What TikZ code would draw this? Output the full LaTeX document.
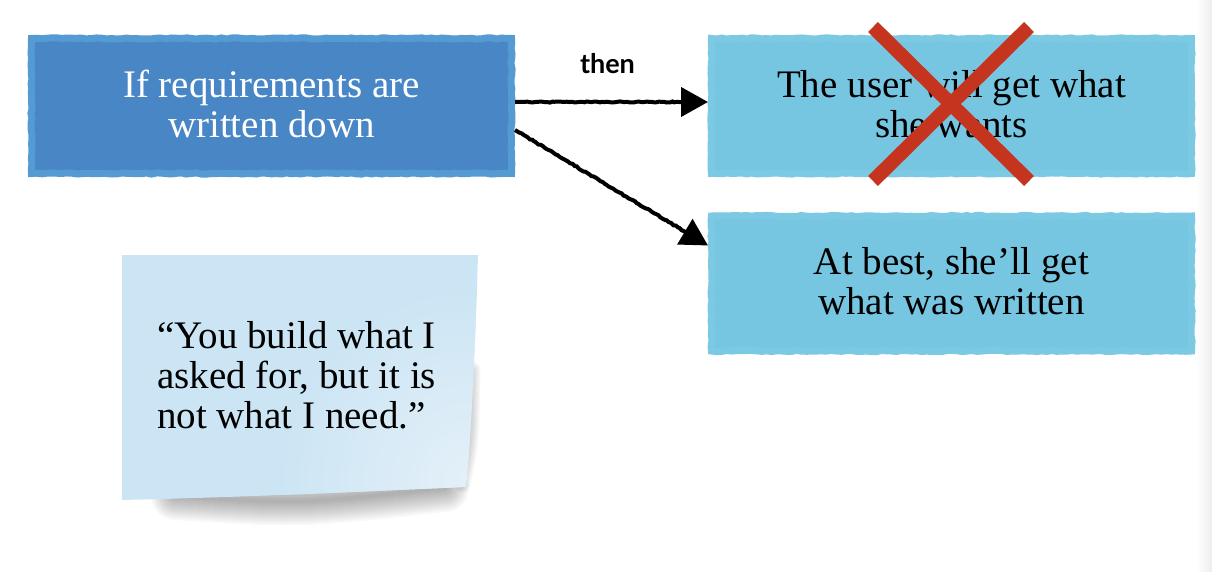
\documentclass[tikz,border=0pt]{standalone}
\usepackage{fontspec}
\setmainfont{Liberation Serif}
\newfontfamily\thenfont{Lato}
\usetikzlibrary{arrows.meta,decorations.pathmorphing,shadows}
\definecolor{darkbox}{HTML}{4886C6}
\definecolor{darkedge}{HTML}{559BD3}
\definecolor{lightbox}{HTML}{77C6E1}
\definecolor{lightedge}{HTML}{7CC9E3}
\definecolor{stickyA}{HTML}{CCE5F4}
\definecolor{stickyB}{HTML}{E4F0F9}
\definecolor{crossred}{HTML}{C4341F}
\begin{document}
\begin{tikzpicture}[x=1pt,y=-1pt,
  boxtext/.style={font=\fontsize{39}{40}\selectfont, align=center},
  roughbox/.style={minimum width=480pt, minimum height=135pt, inner sep=0pt, outer sep=3.5pt,
     line width=7pt, decorate, decoration={random steps,segment length=5pt,amplitude=0.6pt},
     drop shadow={shadow xshift=1.5pt, shadow yshift=-2.5pt, opacity=0.35, fill=black!70}},
  darkstyle/.style={roughbox, fill=darkbox, draw=darkedge, text=white},
  lightstyle/.style={roughbox, fill=lightbox, draw=lightedge, text=black},
  connector/.style={line width=4pt, black, -{Triangle[length=27pt,width=29pt]},
     decorate, decoration={random steps,segment length=2.5pt,amplitude=0.6pt}},
  cross/.style={line width=14pt, crossred},
  quote/.style={font=\fontsize{39}{40}\selectfont, align=left, inner sep=0pt, text=black}
]
\useasboundingbox (0,0) rectangle (1212,572);
\fill[white] (0,0) rectangle (1212,572);
\shade[left color=white, right color=black!7] (1196,0) rectangle (1212,572);

% boxes
\node[darkstyle, boxtext] (req) at (271.5,106) {If requirements are\\written down\vspace{4pt}};
\node[lightstyle, boxtext] (want) at (951.5,106) {The user will get what\\she wants\vspace{4pt}};
\node[lightstyle, boxtext] (best) at (951.5,283.5) {At best, she’ll get\\what was written\vspace{4pt}};

% connectors
\draw[connector, decoration={pre length=2pt, post length=27pt}] ([yshift=4pt]req.east) -- ([yshift=4pt]want.west)
  node[midway, above=23pt, xshift=-4pt, font=\thenfont\bfseries\fontsize{27}{30}\selectfont, text=black] (then) {then};
\draw[connector, decoration={pre length=2pt, post length=27pt}] ([yshift=-24pt]req.east) -- ([yshift=38pt]best.west);

% red cross
\coordinate (xa) at (873,27);
\coordinate (xb) at (1029,181);
\coordinate (xc) at (1029,27);
\coordinate (xd) at (873,181);
\draw[cross] (xa) -- (xb);
\draw[cross] (xc) -- (xd);

% sticky note shadow
\foreach \w in {4,8,...,48} {
  \draw[line width=\w pt, black, opacity=0.028, line cap=round] (175,496) .. controls (300,504) .. (445,488);
}
\foreach \w in {2,5,...,17} {
  \draw[line width=\w pt, black, opacity=0.03, line cap=round] (472,370) .. controls (471,440) .. (462,484);
}
% sticky note
\path[fill=stickyA] (122,255) -- (478,255) .. controls (474,380) and (470,450) .. (466,487)
   .. controls (350,492) and (250,497) .. (122,500) -- cycle;
\begin{scope}
\clip (122,255) -- (478,255) .. controls (474,380) and (470,450) .. (466,487)
   .. controls (350,492) and (250,497) .. (122,500) -- cycle;
\shade[inner color=stickyB, outer color=stickyA] (470,480) circle (190);
\end{scope}
\node[quote, anchor=west] (note) at (157,375) {“You build what I\\asked for, but it is\\not what I need.”};
\end{tikzpicture}
\end{document}
